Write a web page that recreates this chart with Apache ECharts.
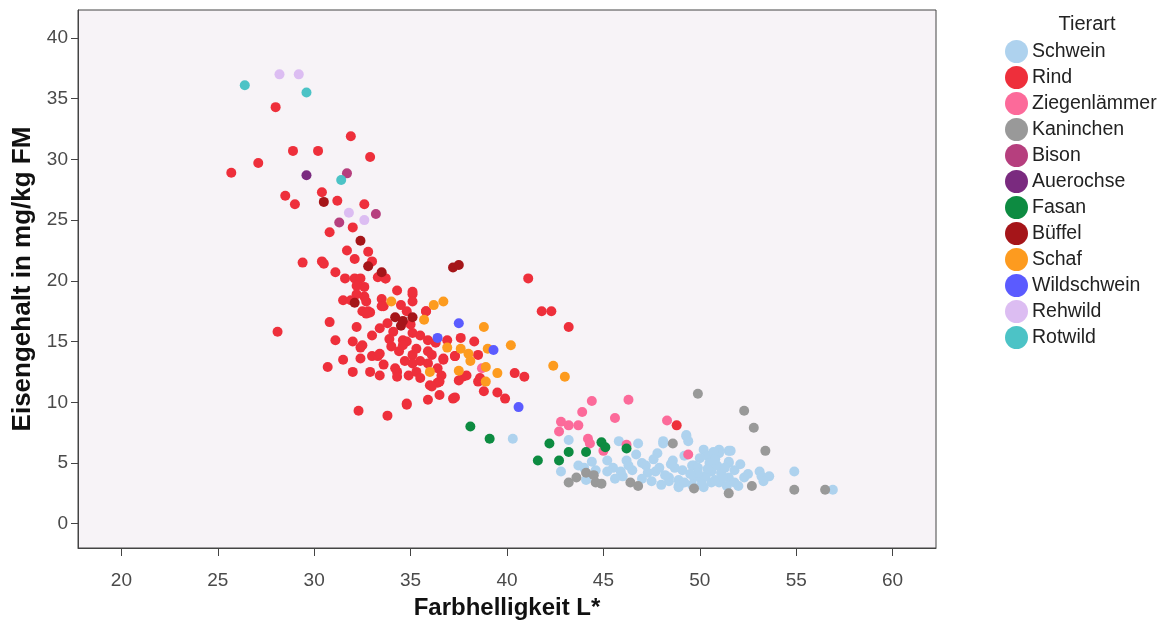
<!DOCTYPE html>
<html>
<head>
<meta charset="utf-8">
<title>Eisengehalt vs. Farbhelligkeit</title>
<script src="https://cdn.jsdelivr.net/npm/echarts@6/dist/echarts.min.js"></script>
<style>
  html, body { margin: 0; padding: 0; background: #fff; }
  #chart { width: 1175px; height: 625px; }
</style>
</head>
<body>
<div id="chart"></div>
<script>
// Tierarten und Farben (Reihenfolge wie Legende)
const speciesNames = ['Schwein', 'Rind', 'Ziegenlämmer', 'Kaninchen', 'Bison', 'Auerochse',
  'Fasan', 'Büffel', 'Schaf', 'Wildschwein', 'Rehwild', 'Rotwild'];
const speciesColors = ['#aed2ee', '#ee2f3b', '#fc6a9a', '#999999', '#b63f7e', '#7a2a7f',
  '#0d8b41', '#a51519', '#fd9b1f', '#5b5bff', '#dcbdf2', '#4cc3c6'];

// [Farbhelligkeit L*, Eisengehalt mg/kg FM]
const schwein = [
  [40.3, 7.0], [43.2, 6.9], [42.8, 4.3], [43.7, 4.8], [44.1, 3.6], [44.6, 4.4], [45.2, 5.2],
  [45.5, 4.6], [45.8, 6.8], [46.2, 5.2], [45.9, 4.3], [46.7, 5.7], [47.0, 5.0], [46.8, 6.6],
  [47.3, 4.2], [47.7, 4.3], [47.8, 5.8], [48.1, 6.6], [48.4, 3.8], [48.6, 5.2], [48.9, 3.1],
  [49.1, 4.4], [49.3, 7.3], [49.4, 6.8], [49.7, 4.8], [49.9, 4.0], [48.1, 6.8], [50.2, 6.1],
  [50.4, 5.6], [51.0, 6.1], [51.0, 5.8], [51.5, 6.0], [51.5, 5.0], [49.6, 4.8], [49.9, 4.6],
  [50.6, 4.3], [51.1, 4.2], [51.5, 3.8], [52.3, 3.8], [53.1, 4.3], [53.2, 3.9], [53.6, 3.9],
  [54.9, 4.3], [52.0, 3.1], [50.2, 3.0], [48.9, 3.0], [48.4, 3.5], [48.7, 4.6], [48.9, 3.6],
  [50.6, 3.4], [51.0, 3.4], [51.4, 3.1], [49.7, 3.8], [50.1, 3.6], [50.3, 3.9], [50.8, 3.6],
  [51.2, 3.8], [49.9, 4.2], [50.1, 3.2], [49.6, 3.2], [56.9, 2.8], [49.3, 7.2], [51.6, 6.0],
  [51.5, 5.1], [46.0, 3.9], [46.5, 4.4], [47.0, 3.7], [47.5, 3.5], [48.0, 3.2], [47.2, 4.8],
  [46.3, 4.8], [45.2, 4.3], [44.0, 4.6], [50.5, 5.0], [50.9, 4.8], [51.8, 4.4], [52.5, 4.1],
  [50.0, 5.4], [50.7, 5.9], [49.2, 5.6], [48.2, 4.0], [47.6, 5.3], [50.4, 4.5], [49.5, 4.1],
  [51.3, 4.6], [52.1, 4.9], [50.8, 5.3], [48.5, 4.9], [45.6, 3.7], [44.4, 5.1], [53.3, 3.5],
  [51.8, 3.4], [49.2, 3.4], [47.9, 4.6]
];
const rind = [
  [28.0, 34.3], [25.7, 28.9], [27.1, 29.7], [28.9, 30.7], [30.2, 30.7], [31.9, 31.9], [32.9, 30.2],
  [28.5, 27.0], [29.0, 26.3], [30.4, 27.3], [31.2, 26.6], [32.6, 26.3], [32.0, 24.4], [30.8, 24.0],
  [31.7, 22.5], [32.8, 22.4], [32.1, 21.8], [33.0, 21.6], [29.4, 21.5], [30.4, 21.6], [30.5, 21.4],
  [31.1, 20.7], [31.6, 20.2], [32.1, 20.2], [32.4, 20.2], [33.3, 20.3], [33.7, 20.2], [32.2, 19.6],
  [32.6, 19.5], [32.2, 18.9], [31.5, 18.4], [31.9, 18.4], [32.6, 18.7], [32.7, 18.3], [33.5, 18.5],
  [34.3, 19.2], [35.1, 18.9], [35.1, 18.3], [34.5, 18.0], [34.8, 17.5], [35.8, 17.5], [33.6, 17.9],
  [32.9, 17.4], [32.5, 17.5], [30.8, 16.6], [28.1, 15.8], [32.2, 16.2], [31.1, 15.1], [32.0, 15.0],
  [32.4, 14.5], [31.5, 13.5], [32.4, 13.6], [33.0, 13.8], [33.3, 13.8], [33.4, 14.0], [30.7, 12.9],
  [32.0, 12.5], [34.3, 12.5], [34.3, 12.1], [34.9, 12.2], [32.3, 9.3], [33.8, 8.9], [34.8, 9.8],
  [35.9, 10.2], [36.5, 10.6], [37.3, 10.4], [32.8, 17.5], [33.5, 17.9], [33.4, 16.1], [33.8, 16.5],
  [34.1, 15.8], [34.6, 15.1], [34.8, 15.0], [35.1, 15.7], [35.5, 15.5], [35.8, 17.5], [35.9, 15.1],
  [34.4, 14.2], [34.6, 14.7], [35.1, 13.9], [35.3, 14.4], [35.9, 14.2], [36.1, 13.9], [35.5, 13.4],
  [35.9, 13.2], [36.4, 12.8], [36.7, 13.5], [37.3, 13.8], [36.6, 12.2], [36.4, 11.6], [36.5, 11.7],
  [34.2, 12.8], [35.1, 13.2], [35.3, 12.5], [35.5, 12.0], [36.0, 11.4], [36.1, 11.3], [37.5, 11.8],
  [37.2, 10.3], [32.9, 12.5], [33.4, 12.2], [32.7, 17.3], [32.5, 14.7], [41.1, 20.2], [41.8, 17.5],
  [42.3, 17.5], [43.2, 16.2], [37.6, 15.3], [38.3, 15.0], [38.5, 13.9], [37.3, 13.8], [36.7, 13.6],
  [40.4, 12.4], [40.9, 12.1], [37.7, 12.1], [37.9, 12.2], [38.5, 11.7], [38.6, 12.0], [38.8, 10.9],
  [39.5, 10.8], [39.9, 10.3], [34.8, 9.9], [33.7, 20.2], [35.1, 19.1], [48.8, 8.1], [33.9, 15.2],
  [34.0, 14.6], [33.6, 13.1], [35.0, 16.4], [36.3, 14.9], [34.7, 13.4], [36.9, 15.1], [33.0, 15.5]
];
const ziegenlaemmer = [
  [44.4, 10.1], [46.3, 10.2], [43.9, 9.2], [45.6, 8.7], [42.8, 8.4], [43.2, 8.1], [43.7, 8.1],
  [42.7, 7.6], [44.2, 7.0], [44.3, 6.6], [45.0, 6.0], [46.2, 6.5], [48.3, 8.5], [49.4, 5.7],
  [38.7, 12.8]
];
const kaninchen = [
  [49.9, 10.7], [48.6, 6.6], [43.2, 3.4], [43.6, 3.8], [44.1, 4.2], [44.5, 4.0], [44.6, 3.4],
  [44.9, 3.3], [46.4, 3.4], [46.8, 3.1], [49.7, 2.9], [52.3, 9.3], [52.8, 7.9], [53.4, 6.0],
  [51.5, 2.5], [52.7, 3.1], [54.9, 2.8], [56.5, 2.8]
];
const bison = [[31.7, 28.85], [33.2, 25.5], [31.3, 24.8]];
const auerochse = [[29.6, 28.7]];
const fasan = [
  [38.1, 8.0], [39.1, 7.0], [42.2, 6.6], [41.6, 5.2], [43.2, 5.9], [42.7, 5.2], [44.1, 5.9],
  [44.9, 6.7], [45.1, 6.3], [46.2, 6.2]
];
const bueffel = [
  [30.5, 26.5], [32.4, 23.3], [32.8, 21.2], [33.5, 20.7], [32.1, 18.2], [37.2, 21.1], [37.5, 21.3],
  [34.2, 17.0], [34.5, 16.3], [35.1, 17.0], [34.6, 16.7]
];
const schaf = [
  [34.0, 18.3], [36.2, 18.0], [36.7, 18.3], [35.7, 16.8], [38.8, 16.2], [36.9, 14.5], [37.6, 14.4],
  [38.0, 14.0], [38.1, 13.4], [39.0, 14.4], [40.2, 14.7], [38.9, 12.9], [39.5, 12.4], [37.5, 12.6],
  [38.9, 11.7], [36.0, 12.5], [42.4, 13.0], [43.0, 12.1]
];
const wildschwein = [[37.5, 16.5], [36.4, 15.3], [39.3, 14.3], [40.6, 9.6]];
const rehwild = [[28.2, 37.0], [29.2, 37.0], [31.8, 25.6], [32.6, 25.0]];
const rotwild = [[26.4, 36.1], [29.6, 35.5], [31.4, 28.3]];

const speciesData = [schwein, rind, ziegenlaemmer, kaninchen, bison, auerochse,
  fasan, bueffel, schaf, wildschwein, rehwild, rotwild];

const chart = echarts.init(document.getElementById('chart'));

const series = speciesNames.map((name, i) => ({
  name: name,
  type: 'scatter',
  data: speciesData[i],
  symbol: 'circle',
  symbolSize: 10,
  itemStyle: { color: speciesColors[i], opacity: 1 },
  emphasis: { disabled: true }
}));

const fontFam = 'Liberation Sans, Arial, sans-serif';
const axisText = { color: '#4a4a4a', fontSize: 19, fontFamily: fontFam };

const option = {
  backgroundColor: '#ffffff',
  animation: false,
  title: {
    text: 'Tierart',
    left: 1082,
    top: 9,
    textAlign: 'center',
    textStyle: { color: '#222', fontSize: 20, fontWeight: 'normal', fontFamily: fontFam }
  },
  legend: {
    orient: 'vertical',
    left: 1000,
    top: 35,
    itemWidth: 23,
    itemHeight: 23,
    itemGap: 3,
    icon: 'circle',
    selectedMode: false,
    data: speciesNames,
    textStyle: { color: '#222', fontSize: 19.5, fontFamily: fontFam, padding: [0, 0, 0, -1] }
  },
  grid: {
    left: 78,
    top: 10,
    width: 858,
    height: 540,
    show: true,
    backgroundColor: '#f7f3f7',
    borderColor: '#444',
    borderWidth: 1
  },
  xAxis: {
    type: 'value',
    min: 17.75,
    max: 62.25,
    splitNumber: 9,
    name: 'Farbhelligkeit L*',
    nameLocation: 'middle',
    nameGap: 48,
    nameTextStyle: { color: '#111', fontSize: 24, fontWeight: 'bold', fontFamily: fontFam },
    axisLine: { show: true, onZero: false, lineStyle: { color: '#444' } },
    axisTick: { show: true, length: 8, lineStyle: { color: '#444' } },
    axisLabel: Object.assign({ margin: 23, showMinLabel: false, showMaxLabel: false }, axisText),
    splitLine: { show: false }
  },
  yAxis: {
    type: 'value',
    min: -2,
    max: 42.3,
    splitNumber: 9,
    name: 'Eisengehalt in mg/kg FM',
    nameLocation: 'middle',
    nameGap: 40,
    nameTextStyle: { color: '#111', fontSize: 26, fontWeight: 'bold', fontFamily: fontFam },
    axisLine: { show: true, onZero: false, lineStyle: { color: '#444' } },
    axisTick: { show: true, length: 7, lineStyle: { color: '#444' } },
    axisLabel: Object.assign({ margin: 10, showMinLabel: false, showMaxLabel: false }, axisText),
    splitLine: { show: false }
  },
  series: series
};

chart.setOption(option);
</script>
</body>
</html>
